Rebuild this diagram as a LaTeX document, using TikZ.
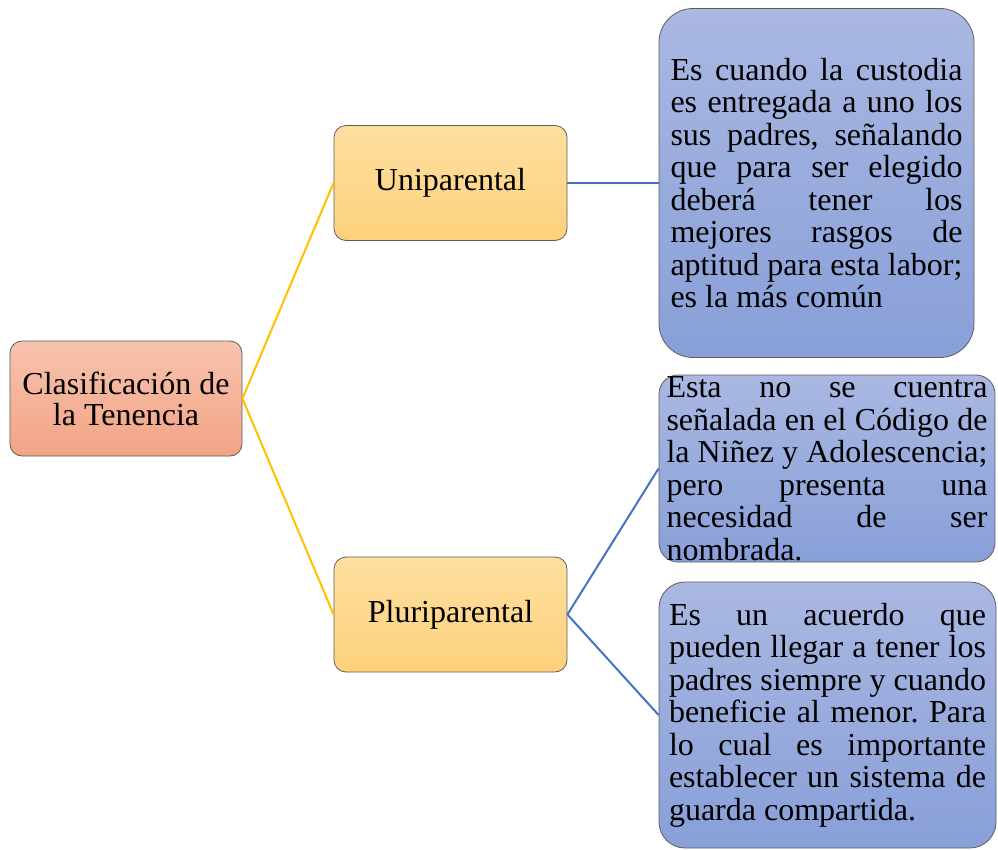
\documentclass[tikz,border=0pt]{standalone}
\usepackage{fontspec}
\setmainfont{Liberation Serif}
\hbadness=10000
\hfuzz=6pt
\hyphenpenalty=10000
\exhyphenpenalty=10000
\frenchspacing
\definecolor{rootTop}{HTML}{F7C3AE}
\definecolor{rootBot}{HTML}{F3A385}
\definecolor{yelTop}{HTML}{FEDFA1}
\definecolor{yelBot}{HTML}{FDD17A}
\definecolor{bluTop}{HTML}{AAB8E2}
\definecolor{bluBot}{HTML}{889FD8}
\definecolor{lineYel}{HTML}{FFC000}
\definecolor{lineBlu}{HTML}{4472C4}
\definecolor{edgeGray}{HTML}{5E5E5E}
\begin{document}
\begin{tikzpicture}[x=1pt,y=-1pt,
  box/.style={draw=edgeGray, line width=0.8pt, inner sep=0pt},
  rootbox/.style={box, top color=rootTop, bottom color=rootBot, rounded corners=12pt,
    minimum width=232pt, minimum height=115pt, align=center,
    font=\fontsize{32}{31}\selectfont},
  yelbox/.style={box, top color=yelTop, bottom color=yelBot, rounded corners=12pt,
    minimum width=233pt, minimum height=115pt, align=center,
    font=\fontsize{32}{31}\selectfont},
  blubox/.style={box, top color=bluTop, bottom color=bluBot, align=justify,
    font=\fontsize{32}{32.5}\selectfont\frenchspacing},
  yline/.style={draw=lineYel, line width=2pt},
  bline/.style={draw=lineBlu, line width=2pt}
]
\useasboundingbox (0,0) rectangle (998,850);

\node[rootbox] (root) at (126,398.5) {Clasificación de\\la Tenencia};
\node[yelbox] (uni) at (450.5,183) {Uniparental};
\node[yelbox] (pluri) at (450.5,614.5) {Pluriparental};

\node[blubox, rounded corners=34pt, minimum width=315pt, minimum height=349pt, text width=292pt] (top) at (816.5,183)
 {Es cuando la custodia\linebreak es entregada a uno los\linebreak sus padres, señalando\linebreak que para ser elegido\linebreak deberá tener los\linebreak mejores rasgos de\linebreak aptitud para esta labor;\linebreak es la más común};

\node[blubox, rounded corners=19pt, minimum width=336pt, minimum height=187pt, text width=321pt] (mid) at (827,468.5)
 {Esta no se cuentra\linebreak señalada en el Código de\linebreak la Niñez y Adolescencia;\linebreak pero presenta una\linebreak necesidad de ser\linebreak nombrada.};

\node[blubox, rounded corners=26pt, minimum width=337pt, minimum height=266pt, text width=317pt] (bot) at (827.5,715)
 {Es un acuerdo que\linebreak pueden llegar a tener los\linebreak padres siempre y cuando\linebreak beneficie al menor. Para\linebreak lo cual es importante\linebreak establecer un sistema de\linebreak guarda compartida.};

\draw[yline] (root.east) -- (uni.west);
\draw[yline] (root.east) -- (pluri.west);
\draw[bline] (uni.east) -- (top.west);
\draw[bline] (pluri.east) -- (mid.west);
\draw[bline] (pluri.east) -- (bot.west);
\end{tikzpicture}
\end{document}
